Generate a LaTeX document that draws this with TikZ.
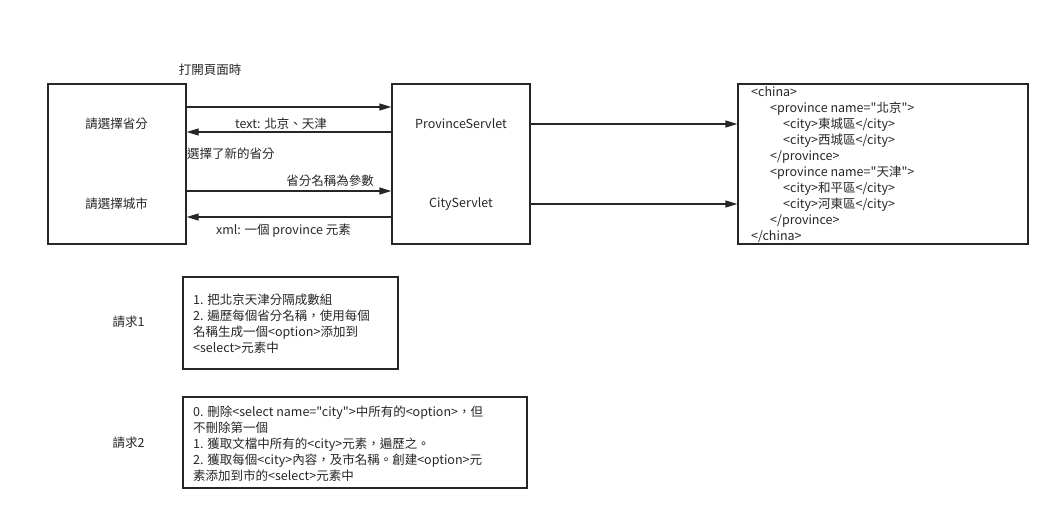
\documentclass[tikz,border=0pt]{standalone}
\usepackage{fontspec}
\newfontfamily\cjk{Noto Sans CJK TC}
\usetikzlibrary{arrows.meta,positioning}

\begin{document}
\begin{tikzpicture}[x=1pt, y=-1pt,
every node/.style={font=\cjk\fontsize{12.5}{16}\selectfont, text=black!85},
boxnode/.style={rectangle, draw=black!85, line width=1.4pt, inner sep=0pt},
textnode/.style={inner sep=0pt, align=left, anchor=north west},
arr/.style={-{Triangle[length=12pt,width=7pt]}, draw=black!85, line width=1.4pt},
]
\useasboundingbox (0,0) rectangle (1061,520);
%Boxes
\node[boxnode, minimum width=138pt, minimum height=160pt] (page)    at (117,164)   {};
\node[boxnode, minimum width=138pt, minimum height=160pt] (servlet) at (461,164)   {};
\node[boxnode, minimum width=290pt, minimum height=160pt] (xml)     at (883,164)   {};
\node[boxnode, minimum width=215pt, minimum height=92pt]  (reqone)  at (290.5,323) {};
\node[boxnode, minimum width=344pt, minimum height=91pt]  (reqtwo)  at (355,442.5) {};

%Texts
\node (prov)     at (116.5,124) {請選擇省分};
\node (city)     at (116.5,204) {請選擇城市};
\node (pservlet) at (461,124)   {ProvinceServlet};
\node (cservlet) at (461,204)   {CityServlet};
\node (open)     at (210,70)    {打開頁面時};
\node (txtres)   at (281,124)   {text: 北京、天津};
\node[anchor=west, inner sep=0pt] (newprov) at (187,154) {選擇了新的省分};
\node (param)    at (330,181)   {省分名稱為參數};
\node (xmlres)   at (283.5,231) {xml: 一個 province 元素};
\node (labone)   at (128.5,322) {請求1};
\node (labtwo)   at (128.5,443) {請求2};

\node[textnode] (xmltext) at (751,85.5) {\strut<china>\\
\hspace*{19pt}<province name="北京">\\
\hspace*{32pt}<city>東城區</city>\\
\hspace*{32pt}<city>西城區</city>\\
\hspace*{19pt}</province>\\
\hspace*{19pt}<province name="天津">\\
\hspace*{32pt}<city>和平區</city>\\
\hspace*{32pt}<city>河東區</city>\\
\hspace*{19pt}</province>\\
</china>};

\node[textnode] (onetext) at (193,293.5) {\strut 1. 把北京天津分隔成數組\\
2. 遍歷每個省分名稱，使用每個\\
名稱生成一個<option>添加到\\
<select>元素中};

\node[textnode] (twotext) at (193,405.5) {\strut 0. 刪除<select name="city">中所有的<option>，但\\
不刪除第一個\\
1. 獲取文檔中所有的<city>元素，遍歷之。\\
2. 獲取每個<city>內容，及市名稱。創建<option>元\\
素添加到市的<select>元素中};

%Lines
\draw[arr] ([yshift=57pt]page.east) -- ([yshift=57pt]servlet.west);
\draw[arr] ([yshift=32pt]servlet.west) -- ([yshift=32pt]page.east);
\draw[arr] ([yshift=-27pt]page.east) -- ([yshift=-27pt]servlet.west);
\draw[arr] ([yshift=-53pt]servlet.west) -- ([yshift=-53pt]page.east);
\draw[arr] (servlet.east |- pservlet) -- (xml.west |- pservlet);
\draw[arr] (servlet.east |- cservlet) -- (xml.west |- cservlet);
\end{tikzpicture}
\end{document}
